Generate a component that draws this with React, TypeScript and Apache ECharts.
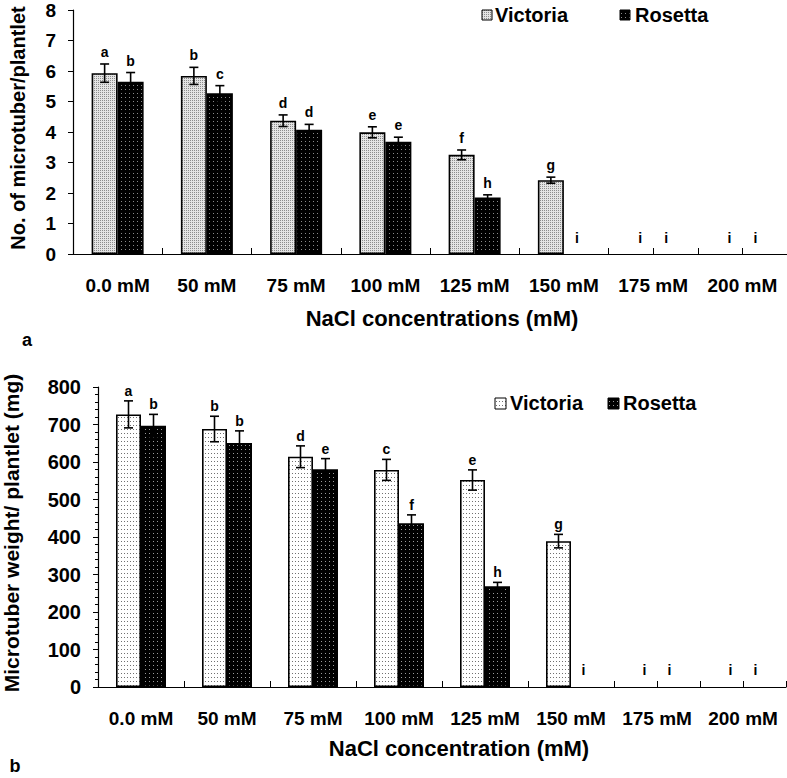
import React, { useEffect, useRef } from "react";
import * as echarts from "echarts";

const categories = ["0.0 mM", "50 mM", "75 mM", "100 mM", "125 mM", "150 mM", "175 mM", "200 mM"];

// Chart a: number of microtubers per plantlet
const numVictoria = [5.93, 5.84, 4.37, 3.99, 3.25, 2.42, 0, 0];
const numVictoriaErr = [0.3, 0.28, 0.19, 0.18, 0.16, 0.1, 0, 0];
const numVictoriaLetters = ["a", "b", "d", "e", "f", "g", "i", "i"];
const numRosetta = [5.65, 5.27, 4.07, 3.68, 1.85, 0, 0, 0];
const numRosettaErr = [0.3, 0.25, 0.18, 0.15, 0.09, 0, 0, 0];
const numRosettaLetters = ["b", "c", "d", "e", "h", "i", "i", "i"];

// Chart b: microtuber weight per plantlet (mg)
const wtVictoria = [727, 688, 614, 579, 552, 389, 0, 0];
const wtVictoriaErr = [36, 34, 29, 28, 27, 18, 0, 0];
const wtVictoriaLetters = ["a", "b", "d", "c", "e", "g", "i", "i"];
const wtRosetta = [697, 651, 581, 437, 269, 0, 0, 0];
const wtRosettaErr = [30, 32, 28, 22, 10, 0, 0, 0];
const wtRosettaLetters = ["b", "b", "e", "f", "h", "i", "i", "i"];

const FONT = '"Liberation Sans", Arial, Helvetica, sans-serif';

function makePattern(w: number, h: number, bg: string, dots: [number, number, string][]) {
  const c = document.createElement("canvas");
  c.width = w;
  c.height = h;
  const ctx = c.getContext("2d")!;
  ctx.fillStyle = bg;
  ctx.fillRect(0, 0, w, h);
  for (const [x, y, col] of dots) {
    ctx.fillStyle = col;
    ctx.fillRect(x, y, 1, 1);
  }
  return { image: c, repeat: "repeat", imageWidth: w, imageHeight: h } as any;
}

// zero-height bars are not drawn (they would only thicken the axis line)
const barData = (vals: number[]) => vals.map((v) => (v === 0 ? null : v));

function errorSeries(
  xAxisIndex: number,
  yAxisIndex: number,
  values: number[],
  errs: number[],
  letters: string[],
  offset: number,
  fontSize: number,
  gapErr: number,
  gapZero: number
) {
  return {
    type: "custom",
    xAxisIndex,
    yAxisIndex,
    z: 10,
    clip: false,
    silent: true,
    data: values.map((v, i) => [i, v, errs[i]]),
    encode: { x: 0, y: 1 },
    renderItem: (params: any, api: any) => {
      const i = api.value(0);
      const v = api.value(1);
      const e = api.value(2);
      const base = api.coord([i, v]);
      const x = base[0] + offset;
      const yTop = api.coord([i, v + e])[1];
      const yBot = api.coord([i, v - e])[1];
      const children: any[] = [];
      if (e > 0) {
        const st = { stroke: "#000", lineWidth: 1.6 };
        children.push({ type: "line", shape: { x1: x, y1: yTop, x2: x, y2: yBot }, style: st });
        children.push({ type: "line", shape: { x1: x - 4.5, y1: yTop, x2: x + 4.5, y2: yTop }, style: st });
        children.push({ type: "line", shape: { x1: x - 4.5, y1: yBot, x2: x + 4.5, y2: yBot }, style: st });
      }
      children.push({
        type: "text",
        style: {
          text: letters[params.dataIndex],
          x,
          y: yTop - (e > 0 ? gapErr : gapZero),
          align: "center",
          verticalAlign: "bottom",
          font: `bold ${fontSize}px ${FONT}`,
          fill: "#000",
        },
      });
      return { type: "group", children };
    },
  };
}

const halfCats = Array.from({ length: 16 }, (_, i) => "h" + i);

export default function App() {
  const ref = useRef<HTMLDivElement>(null);
  useEffect(() => {
    if (!ref.current) return;
    const chart = echarts.init(ref.current, null, { renderer: "svg" });

    const vicTop = makePattern(2, 2, "#e4e4e4", [[0, 0, "#8c8c8c"]]);
    const rosTop = makePattern(4, 4, "#000000", [[1, 1, "#8a8a8a"]]);
    const vicBot = makePattern(3, 4, "#ffffff", [[1, 1, "#707070"]]);
    const rosBot = makePattern(4, 4, "#000000", [[1, 1, "#9a9a9a"]]);

    const axisLabelX = { color: "#000", fontSize: 19, fontWeight: "bold", fontFamily: FONT, interval: 0 };
    const axisLabelY = { color: "#000", fontWeight: "bold", fontFamily: FONT };

    const mainX = (gridIndex: number) => ({
      gridIndex,
      type: "category",
      position: "bottom",
      data: categories,
      axisLine: { show: true, lineStyle: { color: "#000", width: 1.2 } },
      axisTick: { show: true, inside: true, length: 6, lineStyle: { color: "#000" } },
      axisLabel: { ...axisLabelX, margin: 22 },
      splitLine: { show: false },
    });
    const extraX = (gridIndex: number) => ({
      gridIndex,
      type: "category",
      position: "bottom",
      data: halfCats,
      axisLine: { show: false },
      axisTick: {
        show: true,
        inside: true,
        length: 6,
        interval: (idx: number) => idx === 13 || idx === 15,
        lineStyle: { color: "#000" },
      },
      axisLabel: { show: false },
      splitLine: { show: false },
    });

    const option: any = {
      animation: false,
      backgroundColor: "#fff",
      grid: [
        { left: 73, top: 10, width: 720, height: 244 },
        { left: 98, top: 387, width: 688, height: 300 },
      ],
      xAxis: [mainX(0), extraX(0), mainX(1), extraX(1)],
      yAxis: [
        {
          gridIndex: 0,
          type: "value",
          min: 0,
          max: 8,
          interval: 1,
          axisLine: { show: true, lineStyle: { color: "#000", width: 1.2 } },
          axisTick: { show: true, length: 5, lineStyle: { color: "#000" } },
          splitLine: { show: false },
          axisLabel: { ...axisLabelY, fontSize: 19, margin: 17 },
        },
        {
          gridIndex: 1,
          type: "value",
          min: 0,
          max: 800,
          interval: 100,
          axisLine: { show: true, lineStyle: { color: "#000", width: 1.2 } },
          axisTick: { show: true, length: 5, lineStyle: { color: "#000" } },
          minorTick: { show: true, splitNumber: 5, length: 3, lineStyle: { color: "#000" } },
          splitLine: { show: false },
          axisLabel: { ...axisLabelY, fontSize: 20, margin: 17 },
        },
      ],
      series: [
        {
          type: "bar",
          name: "Victoria",
          xAxisIndex: 0,
          yAxisIndex: 0,
          data: barData(numVictoria),
          barWidth: 26,
          barGap: "0%",
          itemStyle: { color: vicTop, borderColor: "#000", borderWidth: 1.6 },
        },
        {
          type: "bar",
          name: "Rosetta",
          xAxisIndex: 0,
          yAxisIndex: 0,
          data: barData(numRosetta),
          barWidth: 26,
          barGap: "0%",
          itemStyle: { color: rosTop, borderColor: "#000", borderWidth: 1.6 },
        },
        {
          type: "bar",
          name: "Victoria",
          xAxisIndex: 2,
          yAxisIndex: 1,
          data: barData(wtVictoria),
          barWidth: 25,
          barGap: "0%",
          itemStyle: { color: vicBot, borderColor: "#000", borderWidth: 1.6 },
        },
        {
          type: "bar",
          name: "Rosetta",
          xAxisIndex: 2,
          yAxisIndex: 1,
          data: barData(wtRosetta),
          barWidth: 25,
          barGap: "0%",
          itemStyle: { color: rosBot, borderColor: "#000", borderWidth: 1.6 },
        },
        errorSeries(0, 0, numVictoria, numVictoriaErr, numVictoriaLetters, -13, 14, 5, 9),
        errorSeries(0, 0, numRosetta, numRosettaErr, numRosettaLetters, 13, 14, 5, 9),
        errorSeries(2, 1, wtVictoria, wtVictoriaErr, wtVictoriaLetters, -12.5, 14, 3, 10),
        errorSeries(2, 1, wtRosetta, wtRosettaErr, wtRosettaLetters, 12.5, 14, 3, 10),
      ],
      graphic: [
        {
          type: "text",
          x: 18,
          y: 128,
          rotation: Math.PI / 2,
          style: { text: "No. of microtuber/plantlet", align: "center", verticalAlign: "middle", font: `bold 20px ${FONT}`, fill: "#000" },
        },
        {
          type: "text",
          x: 11,
          y: 533,
          rotation: Math.PI / 2,
          style: { text: "Microtuber weight/ plantlet (mg)", align: "center", verticalAlign: "middle", font: `bold 21px ${FONT}`, fill: "#000" },
        },
        {
          type: "text",
          x: 442,
          y: 318,
          style: { text: "NaCl concentrations (mM)", align: "center", verticalAlign: "middle", font: `bold 22px ${FONT}`, fill: "#000" },
        },
        {
          type: "text",
          x: 459,
          y: 748,
          style: { text: "NaCl concentration (mM)", align: "center", verticalAlign: "middle", font: `bold 22px ${FONT}`, fill: "#000" },
        },
        { type: "text", x: 27, y: 340, style: { text: "a", align: "center", verticalAlign: "middle", font: `bold 18px ${FONT}`, fill: "#000" } },
        { type: "text", x: 15, y: 766, style: { text: "b", align: "center", verticalAlign: "middle", font: `bold 18px ${FONT}`, fill: "#000" } },
        // legend chart a
        { type: "rect", shape: { x: 482, y: 10, width: 10, height: 10 }, style: { fill: vicTop, stroke: "#000", lineWidth: 1 } },
        { type: "text", x: 495, y: 15, style: { text: "Victoria", align: "left", verticalAlign: "middle", font: `bold 20px ${FONT}`, fill: "#000" } },
        { type: "rect", shape: { x: 620, y: 10, width: 10, height: 10 }, style: { fill: rosTop, stroke: "#000", lineWidth: 1 } },
        { type: "text", x: 635, y: 15, style: { text: "Rosetta", align: "left", verticalAlign: "middle", font: `bold 20px ${FONT}`, fill: "#000" } },
        // legend chart b
        { type: "rect", shape: { x: 495, y: 398, width: 11, height: 11 }, style: { fill: vicBot, stroke: "#000", lineWidth: 1 } },
        { type: "text", x: 510, y: 403, style: { text: "Victoria", align: "left", verticalAlign: "middle", font: `bold 20px ${FONT}`, fill: "#000" } },
        { type: "rect", shape: { x: 608, y: 398, width: 11, height: 11 }, style: { fill: rosBot, stroke: "#000", lineWidth: 1 } },
        { type: "text", x: 623, y: 403, style: { text: "Rosetta", align: "left", verticalAlign: "middle", font: `bold 20px ${FONT}`, fill: "#000" } },
      ],
    };
    chart.setOption(option);
    return () => chart.dispose();
  }, []);
  return <div ref={ref} style={{ position: "absolute", left: 0, top: 0, width: 787, height: 778 }} />;
}
